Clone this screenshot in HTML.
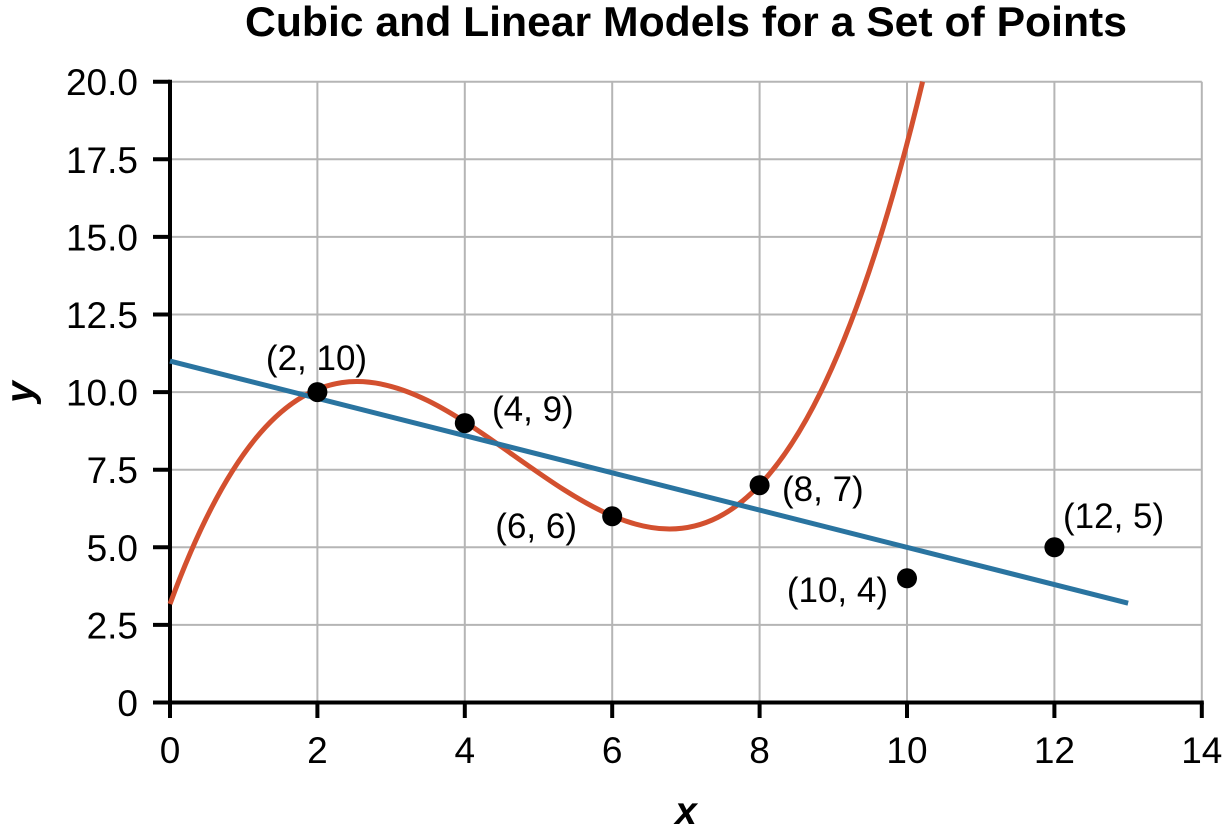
<!DOCTYPE html>
<html>
<head>
<meta charset="utf-8">
<style>
  html, body { margin: 0; padding: 0; background: #ffffff; }
  svg { display: block; }
  text { font-family: "Liberation Sans", "DejaVu Sans", sans-serif; fill: #000; }
</style>
</head>
<body>
<svg width="1224" height="839" viewBox="0 0 1224 839" xmlns="http://www.w3.org/2000/svg">
  <rect x="0" y="0" width="1224" height="839" fill="#ffffff"/>

  <!-- Title -->
  <text x="686" y="36" text-anchor="middle" font-size="42" font-weight="bold" textLength="882" lengthAdjust="spacingAndGlyphs">Cubic and Linear Models for a Set of Points</text>

  <!-- Grid -->
  <g stroke="#b5b5b5" stroke-width="2" fill="none">
    <line x1="317.4" y1="81.7" x2="317.4" y2="702.5"/>
    <line x1="464.8" y1="81.7" x2="464.8" y2="702.5"/>
    <line x1="612.2" y1="81.7" x2="612.2" y2="702.5"/>
    <line x1="759.6" y1="81.7" x2="759.6" y2="702.5"/>
    <line x1="907.0" y1="81.7" x2="907.0" y2="702.5"/>
    <line x1="1054.4" y1="81.7" x2="1054.4" y2="702.5"/>
    <line x1="1201.8" y1="81.7" x2="1201.8" y2="702.5"/>

    <line x1="170" y1="624.9" x2="1201.8" y2="624.9"/>
    <line x1="170" y1="547.3" x2="1201.8" y2="547.3"/>
    <line x1="170" y1="469.7" x2="1201.8" y2="469.7"/>
    <line x1="170" y1="392.1" x2="1201.8" y2="392.1"/>
    <line x1="170" y1="314.5" x2="1201.8" y2="314.5"/>
    <line x1="170" y1="236.9" x2="1201.8" y2="236.9"/>
    <line x1="170" y1="159.3" x2="1201.8" y2="159.3"/>
    <line x1="170" y1="81.7" x2="1201.8" y2="81.7"/>
  </g>

  <!-- Axes -->
  <g stroke="#000" stroke-width="4" fill="none">
    <line x1="170" y1="79.7" x2="170" y2="704.5"/>
    <line x1="153" y1="702.5" x2="1203.8" y2="702.5"/>
    <!-- y ticks -->
    <line x1="153" y1="624.9" x2="170" y2="624.9"/>
    <line x1="153" y1="547.3" x2="170" y2="547.3"/>
    <line x1="153" y1="469.7" x2="170" y2="469.7"/>
    <line x1="153" y1="392.1" x2="170" y2="392.1"/>
    <line x1="153" y1="314.5" x2="170" y2="314.5"/>
    <line x1="153" y1="236.9" x2="170" y2="236.9"/>
    <line x1="153" y1="159.3" x2="170" y2="159.3"/>
    <line x1="153" y1="81.7" x2="170" y2="81.7"/>
    <!-- x ticks -->
    <line x1="170" y1="702.5" x2="170" y2="718"/>
    <line x1="317.4" y1="702.5" x2="317.4" y2="718"/>
    <line x1="464.8" y1="702.5" x2="464.8" y2="718"/>
    <line x1="612.2" y1="702.5" x2="612.2" y2="718"/>
    <line x1="759.6" y1="702.5" x2="759.6" y2="718"/>
    <line x1="907.0" y1="702.5" x2="907.0" y2="718"/>
    <line x1="1054.4" y1="702.5" x2="1054.4" y2="718"/>
    <line x1="1201.8" y1="702.5" x2="1201.8" y2="718"/>
  </g>

  <!-- Y tick labels -->
  <g font-size="37" text-anchor="end">
    <text x="138" y="716">0</text>
    <text x="138" y="638.4">2.5</text>
    <text x="138" y="560.8">5.0</text>
    <text x="138" y="483.2">7.5</text>
    <text x="138" y="405.6">10.0</text>
    <text x="138" y="328">12.5</text>
    <text x="138" y="250.4">15.0</text>
    <text x="138" y="172.8">17.5</text>
    <text x="138" y="95.2">20.0</text>
  </g>

  <!-- X tick labels -->
  <g font-size="37" text-anchor="middle">
    <text x="170" y="763">0</text>
    <text x="317.4" y="763">2</text>
    <text x="464.8" y="763">4</text>
    <text x="612.2" y="763">6</text>
    <text x="759.6" y="763">8</text>
    <text x="907.0" y="763">10</text>
    <text x="1054.4" y="763">12</text>
    <text x="1201.8" y="763">14</text>
  </g>

  <!-- Axis labels -->
  <text x="686" y="824" text-anchor="middle" font-size="39" font-weight="bold" font-style="italic">x</text>
  <text x="0" y="0" transform="translate(33,392) rotate(-90)" text-anchor="middle" font-size="39" font-weight="bold" font-style="italic">y</text>

  <!-- Cubic model -->
  <path d="M170,604 C420.9,-77.4 671.8,1124.0 922.6,81.7" fill="none" stroke="#d3502f" stroke-width="5"/>

  <!-- Linear model -->
  <line x1="170" y1="361.1" x2="1128.1" y2="603.2" stroke="#2a74a0" stroke-width="5"/>

  <!-- Points -->
  <g fill="#000">
    <circle cx="317.4" cy="392.1" r="10"/>
    <circle cx="464.8" cy="423.1" r="10"/>
    <circle cx="612.2" cy="516.3" r="10"/>
    <circle cx="759.6" cy="485.2" r="10"/>
    <circle cx="907.0" cy="578.3" r="10"/>
    <circle cx="1054.4" cy="547.3" r="10"/>
  </g>

  <!-- Point labels -->
  <g font-size="35">
    <text x="316.5" y="370" text-anchor="middle">(2, 10)</text>
    <text x="492" y="421">(4, 9)</text>
    <text x="577" y="538" text-anchor="end">(6, 6)</text>
    <text x="782" y="501">(8, 7)</text>
    <text x="888" y="602" text-anchor="end">(10, 4)</text>
    <text x="1063" y="528">(12, 5)</text>
  </g>
</svg>
</body>
</html>
